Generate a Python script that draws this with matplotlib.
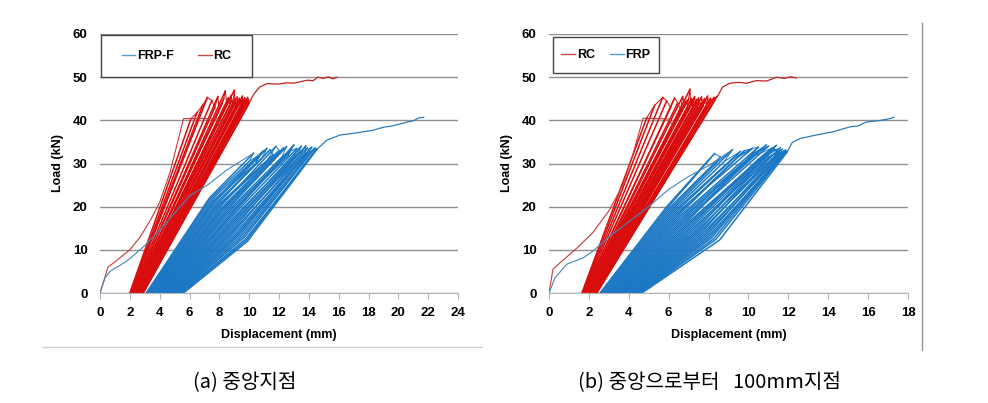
import matplotlib.pyplot as plt
from matplotlib.lines import Line2D
from matplotlib.patches import Rectangle

RED = "#d90d0d"
BLUE = "#1c78c4"
GRID = "#8f8f8f"

# ---- (a) 중앙지점 ----
rc_a_x0 = [2.00, 2.03, 2.05, 2.08, 2.11, 2.14, 2.16, 2.18, 2.21, 2.24, 2.26, 2.28, 2.31, 2.33, 2.36,
           2.39, 2.41, 2.43, 2.46, 2.48, 2.51, 2.54, 2.56, 2.58, 2.61, 2.63, 2.66, 2.68, 2.70, 2.72,
           2.74, 2.76, 2.78, 2.80, 2.82, 2.84, 2.86, 2.87, 2.89, 2.90]
rc_a_x1 = [6.1, 6.5, 6.9, 7.2, 7.5, 7.7, 7.9, 8.0, 8.2, 8.3, 8.4, 8.5, 8.6, 8.7, 8.8,
           8.85, 8.9, 9.0, 9.05, 9.1, 9.15, 9.2, 9.25, 9.3, 9.35, 9.4, 9.45, 9.5, 9.55, 9.6,
           9.65, 9.7, 9.75, 9.8, 9.82, 9.85, 9.9, 9.93, 9.96, 10.0]
rc_a_y1 = [40.4, 41.8, 43.6, 45.3, 44.6, 43.0, 45.5, 42.4, 44.0, 45.0, 46.8, 43.8, 45.2, 43.5, 45.8,
           44.6, 43.2, 47.0, 45.0, 44.2, 42.8, 45.4, 44.0, 43.6, 45.1, 42.5, 44.7, 43.8, 45.6, 43.0,
           44.4, 45.2, 43.4, 44.9, 42.9, 44.6, 45.3, 43.7, 44.8, 44.0]

frp_a_x0 = [3.10, 3.16, 3.21, 3.27, 3.33, 3.39, 3.45, 3.50, 3.56, 3.61, 3.68, 3.73, 3.79, 3.85, 3.91,
            3.96, 4.02, 4.08, 4.13, 4.20, 4.26, 4.31, 4.38, 4.44, 4.50, 4.57, 4.63, 4.69, 4.76, 4.83,
            4.90, 4.97, 5.04, 5.11, 5.18, 5.26, 5.34, 5.42, 5.50, 5.60]
frp_a_kx = [7.33, 7.39, 7.45, 7.51, 7.57, 7.63, 7.69, 7.75, 7.81, 7.87, 7.93, 7.99, 8.05, 8.11, 8.17,
            8.23, 8.29, 8.35, 8.41, 8.48, 8.54, 8.60, 8.67, 8.73, 8.80, 8.87, 8.93, 9.00, 9.07, 9.14,
            9.22, 9.29, 9.37, 9.44, 9.52, 9.60, 9.70, 9.78, 9.84, 9.89]
frp_a_ky = [22.0, 21.8, 21.5, 21.2, 21.0, 20.8, 20.5, 20.2, 20.0, 19.8, 19.5, 19.2, 19.0, 18.8, 18.5,
            18.2, 18.0, 17.8, 17.5, 17.2, 17.0, 16.8, 16.5, 16.2, 16.0, 15.8, 15.5, 15.2, 15.0, 14.8,
            14.5, 14.2, 14.0, 13.8, 13.5, 13.2, 13.0, 12.6, 12.3, 12.0]
frp_a_px = [10.3, 10.0, 10.6, 10.4, 10.9, 11.2, 10.8, 11.4, 11.6, 11.1, 11.8, 12.0, 11.5, 12.3, 12.1,
            12.5, 12.2, 12.8, 12.6, 13.0, 12.7, 13.2, 13.0, 13.5, 13.3, 13.6, 13.4, 13.8, 13.7, 13.9,
            14.0, 13.8, 14.1, 14.2, 14.0, 14.3, 14.4, 14.45, 14.5, 14.55]
frp_a_py = [32.4, 30.5, 31.8, 29.8, 32.8, 33.5, 31.0, 33.2, 32.0, 30.2, 34.0, 33.0, 30.8, 33.6, 32.5,
            33.9, 31.5, 33.0, 31.8, 34.3, 32.8, 33.5, 31.6, 34.0, 32.4, 33.2, 31.8, 34.1, 32.2, 33.6,
            33.0, 32.0, 33.5, 33.8, 32.4, 33.2, 33.6, 33.0, 33.4, 33.3]

rc_a_first_x = [0, 0.54, 1.14, 2.0, 2.7, 3.4, 4.0, 4.7, 5.6, 7.85, 8.0]
rc_a_first_y = [0, 6.0, 7.6, 10.0, 13.0, 17.0, 21.0, 28.0, 40.4, 40.4, 38.0]
frp_a_first_x = [0, 0.34, 0.67, 1.8, 2.35, 3.0, 4.0, 5.0, 6.0, 7.2, 8.5, 10.3]
frp_a_first_y = [0, 3.5, 5.0, 7.4, 9.0, 11.0, 14.5, 18.5, 22.5, 25.0, 28.5, 32.4]
rc_a_last_x = [10.0, 10.3, 10.7, 11.2, 12.0, 12.5, 13.0, 13.5, 13.9, 14.3, 14.6, 15.0, 15.3, 15.6, 15.9]
rc_a_last_y = [44.0, 46.0, 47.7, 48.5, 48.4, 48.7, 48.6, 49.0, 49.3, 49.2, 50.0, 49.7, 50.1, 49.6, 50.0]
frp_a_last_x = [14.55, 15.2, 16.1, 17.0, 18.3, 19.0, 19.6, 20.6, 21.0, 21.4, 21.7]
frp_a_last_y = [33.3, 35.4, 36.6, 37.0, 37.7, 38.4, 38.7, 39.6, 39.9, 40.6, 40.7]

# ---- (b) 중앙으로부터 100mm지점 ----
rc_b_x0 = [1.65, 1.68, 1.70, 1.72, 1.74, 1.76, 1.78, 1.80, 1.82, 1.84, 1.86, 1.88, 1.90, 1.91, 1.93,
           1.95, 1.97, 1.99, 2.01, 2.03, 2.05, 2.07, 2.09, 2.11, 2.13, 2.15, 2.17, 2.19, 2.21, 2.23,
           2.25, 2.27, 2.29, 2.31, 2.33, 2.35, 2.36, 2.37, 2.39, 2.40]
rc_b_x1 = [4.9, 5.3, 5.7, 5.9, 6.1, 6.3, 6.45, 6.6, 6.7, 6.8, 6.9, 6.95, 7.0, 7.07, 7.1,
           7.15, 7.2, 7.25, 7.3, 7.35, 7.4, 7.45, 7.5, 7.55, 7.6, 7.65, 7.7, 7.75, 7.8, 7.85,
           7.9, 7.95, 8.0, 8.05, 8.1, 8.15, 8.2, 8.27, 8.34, 8.4]
rc_b_y1 = [40.6, 43.5, 45.3, 44.5, 43.0, 45.2, 44.0, 42.5, 45.5, 43.8, 44.6, 42.9, 45.0, 47.2, 43.5,
           45.0, 42.8, 44.5, 45.5, 43.2, 44.8, 42.6, 45.2, 44.0, 43.5, 45.4, 44.2, 43.4, 45.0, 44.6,
           43.1, 45.6, 44.3, 43.7, 45.1, 44.6, 43.9, 45.3, 44.8, 45.5]

frp_b_x0 = [2.56, 2.61, 2.66, 2.72, 2.77, 2.83, 2.88, 2.94, 2.99, 3.05, 3.10, 3.16, 3.21, 3.27, 3.32,
            3.38, 3.43, 3.49, 3.54, 3.59, 3.64, 3.70, 3.75, 3.81, 3.86, 3.92, 3.97, 4.03, 4.08, 4.13,
            4.18, 4.24, 4.29, 4.35, 4.40, 4.45, 4.50, 4.55, 4.60, 4.66]
frp_b_kx = [5.90, 5.95, 6.01, 6.07, 6.13, 6.19, 6.25, 6.31, 6.37, 6.43, 6.49, 6.55, 6.61, 6.68, 6.74,
            6.80, 6.86, 6.93, 6.99, 7.05, 7.10, 7.15, 7.21, 7.28, 7.34, 7.41, 7.47, 7.53, 7.59, 7.66,
            7.72, 7.79, 7.85, 7.92, 7.99, 8.06, 8.13, 8.24, 8.36, 8.56]
frp_b_ky = [20.0, 19.8, 19.6, 19.4, 19.2, 19.0, 18.8, 18.6, 18.4, 18.2, 18.0, 17.8, 17.6, 17.4, 17.2,
            17.0, 16.8, 16.6, 16.4, 16.2, 16.0, 15.7, 15.5, 15.3, 15.1, 14.9, 14.7, 14.5, 14.3, 14.1,
            13.9, 13.7, 13.5, 13.3, 13.1, 12.9, 12.7, 12.5, 12.4, 12.3]
frp_b_px = [8.0, 8.3, 8.6, 8.4, 9.2, 8.8, 9.6, 9.3, 10.2, 9.4, 9.8, 10.5, 9.9, 10.9, 10.3,
            10.6, 11.0, 10.1, 11.2, 10.8, 11.4, 10.5, 11.1, 11.6, 10.9, 11.3, 11.5, 11.0, 11.7, 11.2,
            11.8, 11.4, 11.85, 11.6, 11.9, 11.7, 11.8, 11.88, 11.9, 11.93]
frp_b_py = [30.8, 32.3, 31.5, 30.2, 33.2, 30.5, 32.8, 31.4, 33.5, 31.2, 33.0, 33.8, 30.8, 34.3, 32.5,
            33.0, 34.0, 31.4, 33.6, 32.2, 34.2, 31.0, 32.8, 33.6, 31.8, 33.4, 32.6, 31.5, 33.3, 32.0,
            32.9, 31.7, 33.1, 32.4, 32.8, 32.2, 32.5, 32.9, 32.7, 32.6]

rc_b_first_x = [0, 0.2, 0.65, 1.4, 2.2, 3.0, 3.7, 4.2, 4.72, 6.07, 6.2]
rc_b_first_y = [0, 5.5, 7.4, 10.4, 14.0, 19.0, 25.0, 32.0, 40.5, 40.3, 38.0]
frp_b_first_x = [0, 0.3, 0.9, 1.7, 2.2, 3.0, 4.0, 5.0, 6.0, 7.0, 8.0, 9.2]
frp_b_first_y = [0, 3.5, 6.7, 8.1, 9.7, 13.0, 16.5, 20.0, 24.0, 27.0, 29.5, 33.2]
rc_b_last_x = [8.43, 8.7, 9.07, 9.5, 9.9, 10.4, 10.9, 11.2, 11.4, 11.8, 12.1, 12.4]
rc_b_last_y = [45.4, 47.7, 48.6, 48.8, 48.6, 49.2, 49.1, 49.6, 50.0, 49.7, 50.1, 49.8]
frp_b_last_x = [11.93, 12.2, 12.6, 13.4, 14.2, 15.1, 15.5, 15.9, 16.5, 17.0, 17.3]
frp_b_last_y = [32.6, 34.9, 35.8, 36.6, 37.3, 38.5, 38.7, 39.6, 39.9, 40.3, 40.7]

plt.rcParams['font.family'] = ['Liberation Sans', 'DejaVu Sans']

W, H = 988, 403
fig = plt.figure(figsize=(W / 100, H / 100), dpi=100)
ax_a = fig.add_axes([100 / W, 1 - 293 / H, 358 / W, 259 / H])
ax_b = fig.add_axes([549 / W, 1 - 293 / H, 359 / W, 259 / H])


def draw_rc(ax, x0, x1, y1, first, last):
    for a, b, c in zip(x0, x1, y1):
        ax.plot([a, b], [0, c], color=RED, lw=1.1)
    ax.plot(x1, y1, color=RED, lw=0.7)
    ax.plot(first[0], first[1], color="#c83838", lw=0.8)
    ax.plot(last[0], last[1], color="#c02020", lw=0.9)


def draw_frp(ax, x0, kx, ky, px, py, first, last):
    for a, b, c, d, e in zip(x0, kx, ky, px, py):
        ax.plot([a, b, d], [0, c, e], color=BLUE, lw=1.1)
    ax.plot(px, py, color=BLUE, lw=0.7)
    ax.plot(first[0], first[1], color="#4a86b8", lw=0.8)
    ax.plot(last[0], last[1], color="#2f7bb8", lw=0.9)


def style(ax, xmax):
    ax.set_xlim(0, xmax)
    ax.set_ylim(0, 60)
    ax.set_xticks(range(0, xmax + 1, 2))
    ax.set_yticks(range(0, 61, 10))
    ax.grid(axis='y', color=GRID, lw=1)
    ax.set_axisbelow(True)
    for s in ['top', 'right', 'left']:
        ax.spines[s].set_visible(False)
    ax.spines['bottom'].set_color('#b5b5b5')
    ax.tick_params(axis='x', direction='out', length=4, color='#b5b5b5', pad=6,
                   labelsize=9.5)
    ax.tick_params(axis='y', length=0, pad=9, labelsize=9.5)
    for t in ax.get_xticklabels() + ax.get_yticklabels():
        t.set_fontweight('bold')
    ax.set_xlabel("Displacement (mm)", fontsize=9, fontweight='bold')
    ax.xaxis.set_label_coords(0.5, -0.14)
    ax.set_ylabel("Load (kN)", fontsize=9, fontweight='bold')
    ax.yaxis.set_label_coords(-0.1, 0.5)


draw_rc(ax_a, rc_a_x0, rc_a_x1, rc_a_y1, (rc_a_first_x, rc_a_first_y), (rc_a_last_x, rc_a_last_y))
draw_frp(ax_a, frp_a_x0, frp_a_kx, frp_a_ky, frp_a_px, frp_a_py,
         (frp_a_first_x, frp_a_first_y), (frp_a_last_x, frp_a_last_y))
style(ax_a, 24)

draw_rc(ax_b, rc_b_x0, rc_b_x1, rc_b_y1, (rc_b_first_x, rc_b_first_y), (rc_b_last_x, rc_b_last_y))
draw_frp(ax_b, frp_b_x0, frp_b_kx, frp_b_ky, frp_b_px, frp_b_py,
         (frp_b_first_x, frp_b_first_y), (frp_b_last_x, frp_b_last_y))
style(ax_b, 18)

h_rc = Line2D([], [], color="#c84a4a", lw=1)
h_frp = Line2D([], [], color="#4fa0d8", lw=1)


def legend_box(x0, y0, x1, y1, handles, labels, spacing):
    fig.add_artist(Rectangle((x0 / W, 1 - y1 / H), (x1 - x0) / W, (y1 - y0) / H,
                             transform=fig.transFigure, facecolor='white',
                             edgecolor='#444444', lw=1.0, zorder=5))
    leg = fig.legend(handles, labels, ncol=2, loc='center',
                     bbox_to_anchor=((x0 + x1) / 2 / W, 1 - (y0 + y1) / 2 / H),
                     frameon=False, handlelength=1.1, handletextpad=0.15,
                     columnspacing=spacing, prop={'weight': 'bold', 'size': 9})
    leg.set_zorder(6)


legend_box(101, 35, 252, 77, [h_frp, h_rc], ["FRP-F", "RC"], 1.9)
legend_box(553, 37, 659, 73, [h_rc, h_frp], ["RC", "FRP"], 1.2)

# faint outer frame lines
fig.add_artist(Line2D([42 / W, 482 / W], [1 - 347 / H, 1 - 347 / H], color='#d0d0d0', lw=1))
fig.add_artist(Line2D([922 / W, 922 / W], [1 - 23 / H, 1 - 350 / H], color='#909090', lw=1))

kr = ['Noto Sans CJK KR', 'DejaVu Sans']
fig.text(245 / W, 1 - 383 / H, "(a) 중앙지점", ha='center', va='center', fontsize=14.5, family=kr)
fig.text(709 / W, 1 - 383 / H, "(b) 중앙으로부터   100mm지점", ha='center', va='center',
         fontsize=14.5, family=kr)

fig.savefig("out.png", dpi=100)
